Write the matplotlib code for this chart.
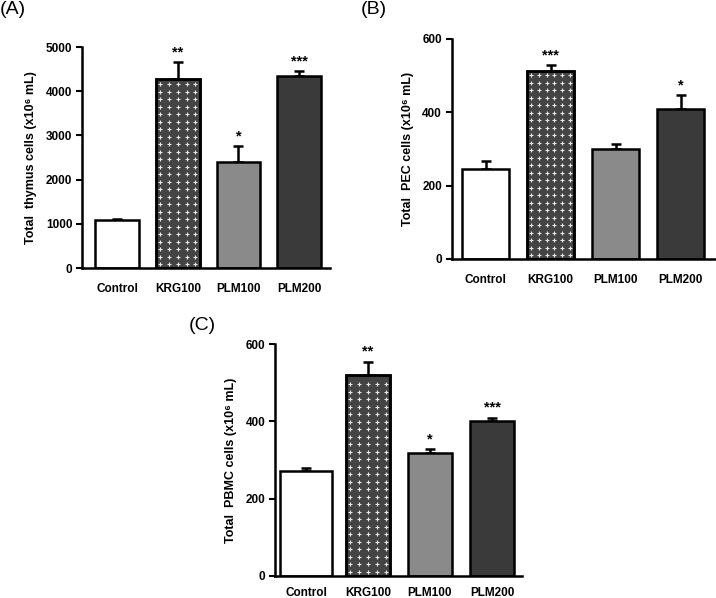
import matplotlib
matplotlib.use('Agg')
import matplotlib.pyplot as plt
import numpy as np

plt.rcParams['font.family'] = ['Liberation Sans', 'DejaVu Sans']
plt.rcParams['font.weight'] = 'bold'

groups = ['Control', 'KRG100', 'PLM100', 'PLM200']

thymus_mean = [1090, 4280, 2405, 4350]
thymus_err = [25, 375, 360, 115]
thymus_sig = ['', '**', '*', '***']

pec_mean = [245, 513, 301, 410]
pec_err = [22, 16, 12, 37]
pec_sig = ['', '***', '', '*']

pbmc_mean = [271, 520, 317, 402]
pbmc_err = [9, 35, 12, 8]
pbmc_sig = ['', '**', '*', '***']

face = ['white', '#444444', '#8a8a8a', '#3a3a3a']


def crosses(ax, xc, width, height, ylim):
    # small white plus marks as the KRG fill pattern
    bb = ax.get_window_extent()
    xl = ax.get_xlim()
    px_x = bb.width / (xl[1] - xl[0])
    px_y = bb.height / (ylim[1] - ylim[0])
    step = 7.5
    n_x = int(width * px_x / step)
    xs = xc - width / 2 + (np.arange(n_x) + 0.5) * width / n_x
    ys = np.arange(step / 2, height * px_y - 2, step) / px_y
    gx, gy = np.meshgrid(xs, ys)
    ax.scatter(gx.ravel(), gy.ravel(), marker='+', s=10, linewidths=0.8, color='#e8e8e8', zorder=3)


def panel(ax, means, errs, sigs, ylim, yticks, ylabel, xlim, widths, xpad):
    x = list(range(len(groups)))
    ax.set_xlim(*xlim)
    ax.set_ylim(*ylim)
    ax.bar(x, means, width=widths, color=face, edgecolor='black', linewidth=1.8, zorder=2)
    crosses(ax, x[1], widths[1], means[1], ylim)
    ax.bar(x[1], means[1], width=widths[1], fill=False, edgecolor='black', linewidth=1.8, zorder=4)
    ax.errorbar(x, means, yerr=[[0] * len(errs), errs], fmt='none', ecolor='black',
                elinewidth=1.8, capsize=3.5, capthick=1.8, zorder=1)
    for i in x:
        if sigs[i]:
            ax.text(i, means[i] + errs[i] + ylim[1] * 0.012, sigs[i], ha='center', va='bottom',
                    fontsize=10.5, fontweight='bold')
    ax.set_yticks(yticks)
    ax.set_xticks(x)
    ax.set_xticklabels(groups, fontweight='bold')
    ax.set_yticklabels([str(t) for t in yticks], fontweight='bold')
    ax.tick_params(axis='x', length=0, pad=xpad, labelsize=8.5)
    ax.tick_params(axis='y', length=4, width=1.5, pad=3, labelsize=8.5)
    ax.spines['top'].set_visible(False)
    ax.spines['right'].set_visible(False)
    ax.spines['left'].set_linewidth(1.8)
    ax.spines['bottom'].set_linewidth(1.8)
    ax.set_ylabel(ylabel, fontsize=9, fontweight='bold', labelpad=6)


fig = plt.figure(figsize=(7.16, 5.98), dpi=100)

axA = fig.add_axes([0.1145, 0.5518, 0.3464, 0.3696])
panel(axA, thymus_mean, thymus_err, thymus_sig, (0, 5000), [0, 1000, 2000, 3000, 4000, 5000],
      'Total  thymus cells (x10⁶ mL)', (-0.58, 3.51), [0.72] * 4, 11)

axB = fig.add_axes([0.6309, 0.5669, 0.3677, 0.3679])
panel(axB, pec_mean, pec_err, pec_sig, (0, 600), [0, 200, 400, 600],
      'Total  PEC cells (x10⁶ mL)', (-0.52, 3.53), [0.72] * 4, 11)

axC = fig.add_axes([0.3841, 0.0373, 0.3446, 0.387])
panel(axC, pbmc_mean, pbmc_err, pbmc_sig, (0, 600), [0, 200, 400, 600],
      'Total  PBMC cells (x10⁶ mL)', (-0.5, 3.48), [0.85, 0.72, 0.72, 0.72], 8)

fig.text(0.0, 0.998, '(A)', fontsize=14, fontweight='normal', ha='left', va='top')
fig.text(0.504, 0.998, '(B)', fontsize=14, fontweight='normal', ha='left', va='top')
fig.text(0.263, 0.47, '(C)', fontsize=14, fontweight='normal', ha='left', va='top')

fig.savefig('out.png', dpi=100)
